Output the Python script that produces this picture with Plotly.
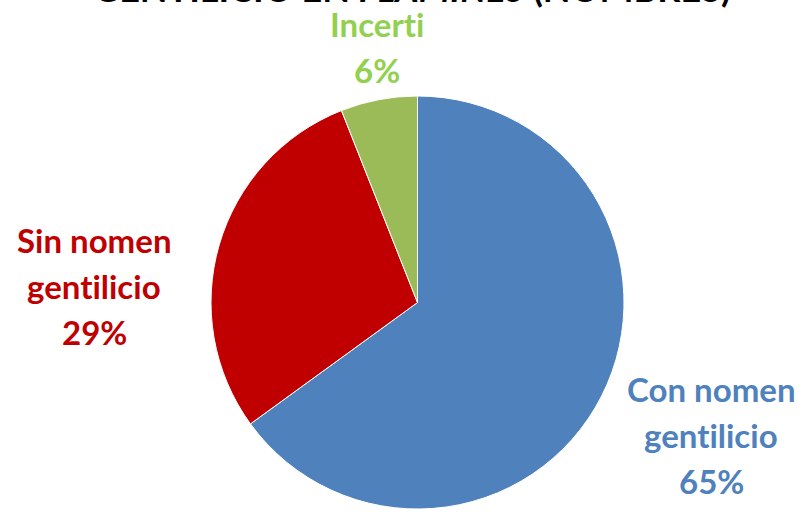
import plotly.graph_objects as go

# Distribution of the nomen gentilicium
categories = ["Con nomen gentilicio", "Sin nomen gentilicio", "Incerti"]
values = [65, 29, 6]
slice_colors = ["#4F81BD", "#C00000", "#9BBB59"]
label_colors = ["#4F81BD", "#C00000", "#92D050"]
label_lines = [["Con nomen", "gentilicio"], ["Sin nomen", "gentilicio"], ["Incerti"]]
title_text = "GENTILICIO EN <i>FLAMINES</i> (NOMBRES)"

W, H = 804, 512
FONT = "Lato"


def no_lig(s):
    # keep "t" and "i" as separate glyphs (Lato would merge them)
    return s.replace("ti", "t\u200ci")


fig = go.Figure(go.Pie(
    labels=categories,
    values=values,
    marker=dict(colors=slice_colors, line=dict(color="white", width=1)),
    sort=False,
    direction="clockwise",
    rotation=0,
    textinfo="none",
    hoverinfo="label+percent",
    showlegend=False,
    domain=dict(x=[211 / W, 624 / W], y=[3 / H, 416 / H]),
))

# label anchor (centre x, first-line y) in pixels, per category
anchors = [(711, 389), (94, 240), (377, 24)]
line_gap = 46
total = sum(values)
annotations = []
for lines, col, (cx, cy), v in zip(label_lines, label_colors, anchors, values):
    pct = f"{round(100 * v / total)}%"
    for i, t in enumerate(lines + [pct]):
        annotations.append(dict(
            x=cx / W, y=1 - (cy + i * line_gap) / H, xref="paper", yref="paper",
            text=f"<b>{no_lig(t)}</b>", showarrow=False, xanchor="center", yanchor="middle",
            font=dict(family=FONT, size=33, color=col),
        ))

annotations.append(dict(
    x=412 / W, y=1 - 12 / H, xref="paper", yref="paper",
    text=f"<b>{title_text}</b>", showarrow=False, xanchor="center", yanchor="bottom",
    font=dict(family=FONT, size=36, color="black"),
))

fig.update_layout(
    width=W, height=H,
    margin=dict(l=0, r=0, t=0, b=0),
    paper_bgcolor="white",
    plot_bgcolor="white",
    annotations=annotations,
)

fig.write_html("out.html")
